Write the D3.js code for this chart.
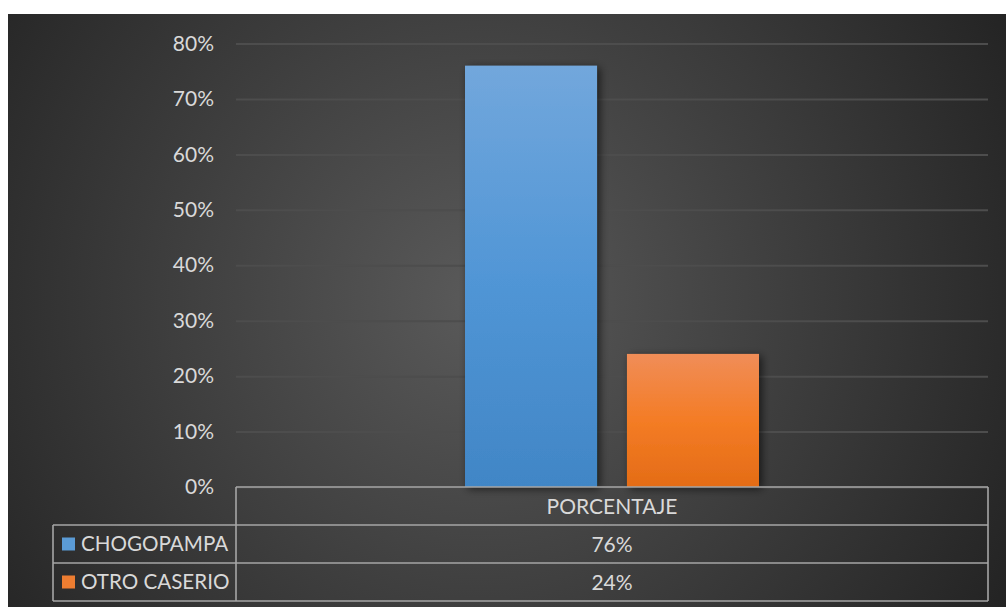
<!DOCTYPE html>
<html><head><meta charset="utf-8">
<script src="https://cdn.jsdelivr.net/npm/d3@7"></script>
<style>html,body{margin:0;padding:0;background:#fff;}svg{display:block;}</style>
</head><body>
<script>
const categories = ["PORCENTAJE"];
const seriesNames = ["CHOGOPAMPA", "OTRO CASERIO"];
const seriesValues = [0.76, 0.24];
const seriesLabels = ["76%", "24%"];
const yTicks = [0, 0.1, 0.2, 0.3, 0.4, 0.5, 0.6, 0.7, 0.8];

const W = 1006, H = 607;
const FONT = "Lato, 'Open Sans', sans-serif";
const TXT = "#d9d9d9";
const svg = d3.select("body").append("svg").attr("width", W).attr("height", H);
const defs = svg.append("defs");

const bg = defs.append("radialGradient").attr("id","bg").attr("gradientUnits","userSpaceOnUse")
  .attr("cx",480).attr("cy",300).attr("r",620);
bg.append("stop").attr("offset","0%").attr("stop-color","#5a5a5a");
bg.append("stop").attr("offset","100%").attr("stop-color","#222222");

const gBlue = defs.append("linearGradient").attr("id","gBlue").attr("x1",0).attr("y1",0).attr("x2",0).attr("y2",1);
gBlue.append("stop").attr("offset","0%").attr("stop-color","#72a7dc");
gBlue.append("stop").attr("offset","50%").attr("stop-color","#5196d6");
gBlue.append("stop").attr("offset","100%").attr("stop-color","#4186c6");
const gOr = defs.append("linearGradient").attr("id","gOr").attr("x1",0).attr("y1",0).attr("x2",0).attr("y2",1);
gOr.append("stop").attr("offset","0%").attr("stop-color","#f08d58");
gOr.append("stop").attr("offset","50%").attr("stop-color","#f47c25");
gOr.append("stop").attr("offset","100%").attr("stop-color","#e46c16");
const fills = ["url(#gBlue)","url(#gOr)"];
const solid = ["#5b9bd5","#ed7d31"];

const sh = defs.append("filter").attr("id","sh").attr("x","-20%").attr("y","-20%").attr("width","150%").attr("height","150%");
sh.append("feGaussianBlur").attr("in","SourceAlpha").attr("stdDeviation",4);
sh.append("feOffset").attr("dx",3).attr("dy",2).attr("result","b");
sh.append("feComponentTransfer").append("feFuncA").attr("type","linear").attr("slope",0.6);
const mg = sh.append("feMerge"); mg.append("feMergeNode"); mg.append("feMergeNode").attr("in","SourceGraphic");

svg.append("rect").attr("x",8).attr("y",14).attr("width",W-8).attr("height",H-14).attr("fill","url(#bg)");

const plotL = 236, plotR = 988;
const y = d3.scaleLinear().domain([0, 0.8]).range([487, 43.5]);
const x0 = d3.scaleBand().domain(categories).range([plotL, plotR]).paddingInner(0).paddingOuter(0.779);
const x1 = d3.scaleBand().domain(seriesNames).range([0, x0.bandwidth()]).paddingInner(0.185);

// gridlines + axis labels
const yAxis = d3.axisLeft(y).tickValues(yTicks).tickFormat(d3.format(".0%")).tickSize(plotL - plotR).tickPadding(22);
const ga = svg.append("g").attr("transform",`translate(${plotL},0)`).call(yAxis);
ga.select(".domain").remove();
ga.selectAll(".tick line").attr("stroke","#4d4d4d").attr("stroke-width",2);
ga.selectAll(".tick text").attr("fill",TXT).attr("font-family",FONT).attr("font-size",21).attr("x",-22);

// bars
const gb = svg.append("g");
categories.forEach(c => {
  seriesNames.forEach((s,i) => {
    gb.append("rect").attr("x", x0(c) + x1(s)).attr("width", x1.bandwidth())
      .attr("y", y(seriesValues[i])).attr("height", y(0) - y(seriesValues[i]))
      .attr("fill", fills[i]).attr("filter","url(#sh)");
  });
});

// data table
const rowT = [487, 525, 563, 601];
const tableL = 53;
const tc = "#a6a6a6";
const gt = svg.append("g").attr("stroke",tc).attr("stroke-width",1.6).attr("fill","none");
gt.append("line").attr("x1",plotL).attr("x2",plotR).attr("y1",rowT[0]).attr("y2",rowT[0]);
gt.append("line").attr("x1",tableL).attr("x2",plotR).attr("y1",rowT[1]).attr("y2",rowT[1]);
gt.append("line").attr("x1",tableL).attr("x2",plotR).attr("y1",rowT[2]).attr("y2",rowT[2]);
gt.append("line").attr("x1",tableL).attr("x2",plotR).attr("y1",rowT[3]).attr("y2",rowT[3]);
gt.append("line").attr("x1",tableL).attr("x2",tableL).attr("y1",rowT[1]).attr("y2",rowT[3]);
gt.append("line").attr("x1",plotL).attr("x2",plotL).attr("y1",rowT[0]).attr("y2",rowT[3]);
gt.append("line").attr("x1",plotR).attr("x2",plotR).attr("y1",rowT[0]).attr("y2",rowT[3]);

const txt = svg.append("g").attr("font-family",FONT).attr("font-size",21).attr("fill",TXT);
categories.forEach(c => {
  const cx = plotL + (plotR - plotL)/2;
  txt.append("text").attr("x",cx).attr("y",(rowT[0]+rowT[1])/2).attr("dy","0.36em").attr("text-anchor","middle").text(c);
  seriesNames.forEach((s,i) => {
    txt.append("text").attr("x",cx).attr("y",(rowT[i+1]+rowT[i+2])/2).attr("dy","0.36em").attr("text-anchor","middle").text(seriesLabels[i]);
  });
});
seriesNames.forEach((s,i) => {
  const cy = (rowT[i+1]+rowT[i+2])/2;
  svg.append("rect").attr("x",62).attr("y",cy-6.5).attr("width",13).attr("height",13).attr("fill",solid[i]);
  txt.append("text").attr("x",81).attr("y",cy).attr("dy","0.36em").attr("font-size",20.6).text(s);
});
</script>
</body></html>
